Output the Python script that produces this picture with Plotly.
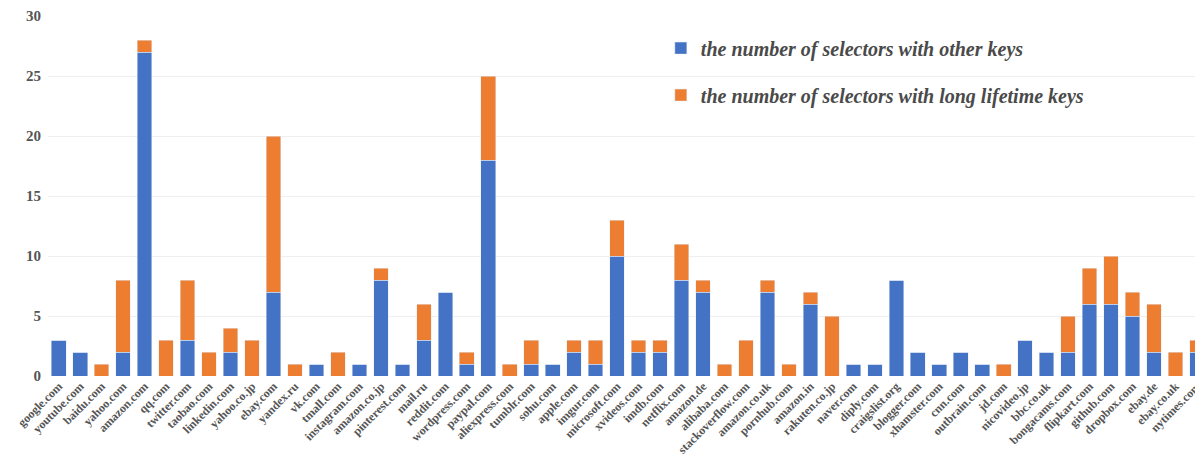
import plotly.graph_objects as go

sites = ["google.com", "youtube.com", "baidu.com", "yahoo.com", "amazon.com", "qq.com",
         "twitter.com", "taobao.com", "linkedin.com", "yahoo.co.jp", "ebay.com", "yandex.ru",
         "vk.com", "tmall.com", "instagram.com", "amazon.co.jp", "pinterest.com", "mail.ru",
         "reddit.com", "wordpress.com", "paypal.com", "aliexpress.com", "tumblr.com", "sohu.com",
         "apple.com", "imgur.com", "microsoft.com", "xvideos.com", "imdb.com", "netflix.com",
         "amazon.de", "alibaba.com", "stackoverflow.com", "amazon.co.uk", "pornhub.com",
         "amazon.in", "rakuten.co.jp", "naver.com", "diply.com", "craigslist.org", "blogger.com",
         "xhamster.com", "cnn.com", "outbrain.com", "jd.com", "nicovideo.jp", "bbc.co.uk",
         "bongacams.com", "flipkart.com", "github.com", "dropbox.com", "ebay.de", "ebay.co.uk",
         "nytimes.com"]

other_keys = [3, 2, 0, 2, 27, 0, 3, 0, 2, 0, 7, 0,
              1, 0, 1, 8, 1, 3, 7, 1, 18, 0, 1, 1,
              2, 1, 10, 2, 2, 8, 7, 0, 0, 7, 0,
              6, 0, 1, 1, 8, 2, 1, 2, 1, 0, 3, 2,
              2, 6, 6, 5, 2, 0, 2]

long_lifetime_keys = [0, 0, 1, 6, 1, 3, 5, 2, 2, 3, 13, 1,
                      0, 2, 0, 1, 0, 3, 0, 1, 7, 1, 2, 0,
                      1, 2, 3, 1, 1, 3, 1, 1, 3, 1, 1,
                      1, 5, 0, 0, 0, 0, 0, 0, 0, 1, 0, 0,
                      3, 3, 4, 2, 4, 2, 1]

y_ticks = [0, 5, 10, 15, 20, 25, 30]

serif = "Liberation Serif, Times New Roman, serif"
gray = "#555555"

fig = go.Figure()
fig.add_trace(go.Bar(x=sites, y=other_keys, name="the number of selectors with other keys",
                     marker_color="#4472C4", legendgroup="a"))
fig.add_trace(go.Bar(x=sites, y=long_lifetime_keys, name="the number of selectors with long lifetime keys",
                     marker_color="#ED7D31", legendgroup="b"))

fig.update_layout(
    width=1195, height=465,
    barmode="stack", bargap=0.32,
    plot_bgcolor="white", paper_bgcolor="white",
    margin=dict(l=40, r=0, t=8, b=97, autoexpand=False),
    showlegend=True,
    legend=dict(x=0.5306, y=0.965, xanchor="left", yanchor="top",
                traceorder="grouped", tracegroupgap=18,
                font=dict(family=serif, size=20, color="#4a4a4a", style="italic", weight="bold"),
                bgcolor="rgba(0,0,0,0)"),
    xaxis=dict(tickangle=-45, tickfont=dict(family=serif, size=12, color=gray, weight="bold"),
               range=[-0.5, 53.28], showline=False, ticks="", showgrid=False, automargin=False),
    yaxis=dict(range=[0, 30], tickvals=y_ticks,
               tickfont=dict(family=serif, size=15, color=gray, weight="bold"),
               showgrid=True, gridcolor="#efefef", gridwidth=1, zeroline=False, showline=False,
               ticks="", ticklabelstandoff=6, automargin=False),
)

fig.write_html("out.html")
